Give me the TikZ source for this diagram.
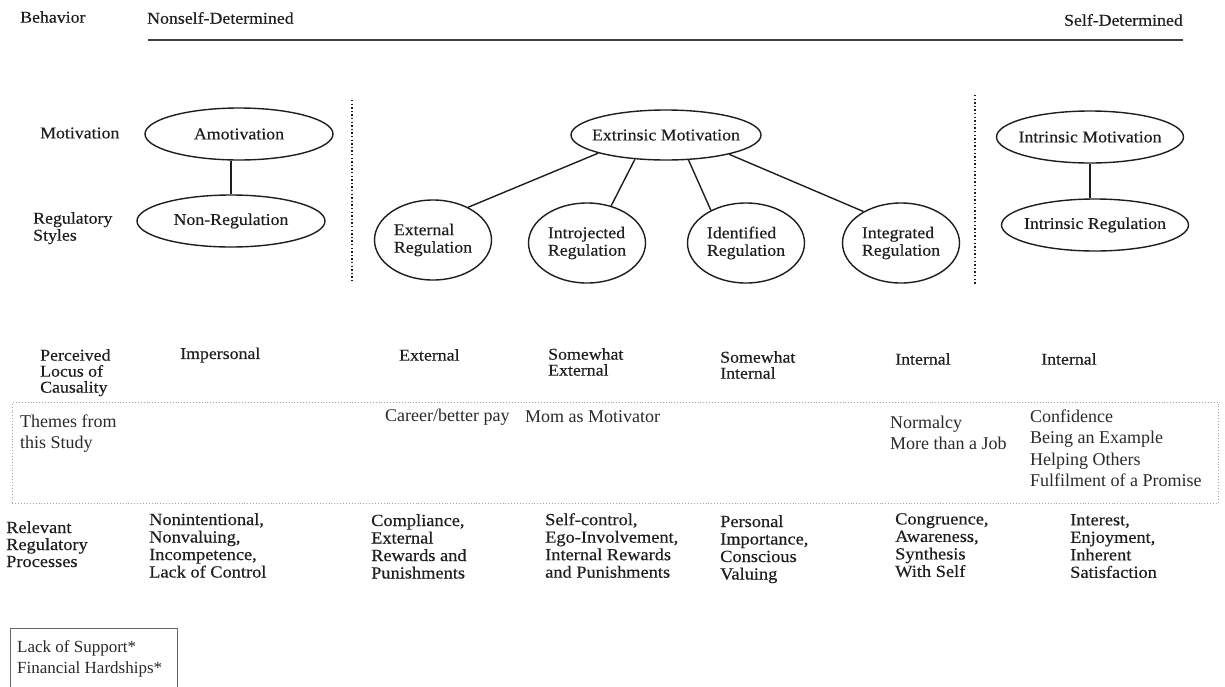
\documentclass[tikz,border=0pt]{standalone}
\usepackage{fontspec}
\setmainfont{Liberation Serif}
\newfontfamily\scanfont[FakeStretch=1.08,FakeBold=0.3]{Liberation Serif}
\usetikzlibrary{shapes.geometric}
\definecolor{ink}{HTML}{1E1E1E}
\definecolor{themeink}{HTML}{2A2A2A}
\tikzset{
  x=1pt, y=-1pt,
  scan/.style={font=\scanfont\fontsize{16.5}{17.5}\selectfont, text=ink, inner sep=0pt, anchor=north west, align=left},
  proc/.style={scan, font=\scanfont\fontsize{17}{17.5}\selectfont},
  theme/.style={font=\fontsize{18}{21.5}\selectfont, text=themeink, inner sep=0pt, anchor=north west, align=left},
  ell/.style={ellipse, draw=ink, line width=1.4pt, inner sep=0pt},
  link/.style={draw=ink, line width=1.4pt},
  sep/.style={draw=ink, line width=1.4pt, dash pattern=on 1.4pt off 2.2pt},
}
\begin{document}
\begin{tikzpicture}
\useasboundingbox (0,0) rectangle (1225,686);
\clip (0,0) rectangle (1225,686);
\fill[white] (0,0) rectangle (1225,686);

% header
\node[scan, anchor=west] (beh) at (20,17) {Behavior};
\node[scan, anchor=west] (nsd) at (147,18) {Nonself-Determined};
\node[scan, anchor=east] (sd) at (1183,20) {Self-Determined};
\coordinate (ruleL) at (148,40);
\coordinate (ruleR) at (1183,40);
\draw[draw=ink!85, line width=2.2pt] (ruleL) -- (ruleR);

% row labels
\node[scan, anchor=west] (motl) at (40,133) {Motivation};
\node[scan, font=\scanfont\fontsize{16.5}{17}\selectfont] (regl) at (33,212) {Regulatory\\Styles};

% amotivation column
\node[ell, minimum width=188pt, minimum height=52pt] (amot) at (239,134) {};
\node[scan, anchor=center] (amotT) at (amot.center) {Amotivation};
\node[ell, minimum width=188pt, minimum height=52pt] (nonreg) at (231,221) {};
\node[scan, anchor=center] (nonregT) at (nonreg.center) {Non-Regulation};
\draw[link] (amot.south -| nonreg.north) -- (nonreg.north);

% separators
\coordinate (s1a) at (352,100);
\coordinate (s1b) at (352,282);
\draw[sep] (s1a) -- (s1b);
\coordinate (s2a) at (975,95);
\coordinate (s2b) at (975,285);
\draw[sep] (s2a) -- (s2b);

% extrinsic
\node[ell, minimum width=190pt, minimum height=50pt] (extm) at (666,135) {};
\node[scan, anchor=center] (extmT) at (extm.center) {Extrinsic Motivation};
\node[ell, minimum width=117pt, minimum height=80pt] (er) at (433,240) {};
\node[scan, anchor=center] (erT) at (er.center) {External\\Regulation};
\node[ell, minimum width=117pt, minimum height=80pt] (ir) at (587,243) {};
\node[scan, anchor=center] (irT) at (ir.center) {Introjected\\Regulation};
\node[ell, minimum width=117pt, minimum height=80pt] (idr) at (746,243) {};
\node[scan, anchor=center] (idrT) at (idr.center) {Identified\\Regulation};
\node[ell, minimum width=117pt, minimum height=80pt] (ingr) at (901,243) {};
\node[scan, anchor=center] (ingrT) at (ingr.center) {Integrated\\Regulation};
\draw[link] (er.43) -- (extm.195);
\draw[link] (ir.57) -- (extm.218);
\draw[link] (idr.137) -- (extm.312);
\draw[link] (ingr.140) -- (extm.343);

% intrinsic
\node[ell, minimum width=187pt, minimum height=52pt] (intm) at (1090,137) {};
\node[scan, anchor=center] (intmT) at (intm.center) {Intrinsic Motivation};
\node[ell, minimum width=187pt, minimum height=52pt] (intr) at (1095,225) {};
\node[scan, anchor=center] (intrT) at (intr.center) {Intrinsic Regulation};
\draw[link] (intm.south) -- (intm.south |- intr.north);

% perceived locus
\node[scan, font=\scanfont\fontsize{16.5}{16}\selectfont] (locl) at (40,349) {Perceived\\Locus of\\Causality};
\node[scan, anchor=west] (loc1) at (180,355) {Impersonal};
\node[scan, anchor=west] (loc2) at (399,355) {External};
\node[scan, font=\scanfont\fontsize{16.5}{16}\selectfont] (loc3) at (548,348) {Somewhat\\External};
\node[scan, font=\scanfont\fontsize{16.5}{16}\selectfont] (loc4) at (720,351) {Somewhat\\Internal};
\node[scan, anchor=west] (loc5) at (895,359) {Internal};
\node[scan, anchor=west] (loc6) at (1041,359) {Internal};

% themes box
\node[draw=gray!70, line width=0.9pt, dotted, minimum width=1206pt, minimum height=101pt, anchor=north west, inner sep=0pt] (themebox) at (12,402) {};
\node[theme] (thl) at (20,414.5) {Themes from\\this Study};
\node[theme, anchor=west] (th1) at (385,417) {Career/better pay};
\node[theme, anchor=west] (th2) at (525,417) {Mom as Motivator};
\node[theme] (th3) at (890,415.5) {Normalcy\\More than a Job};
\node[theme] (th4) at (1030,409.5) {Confidence\\Being an Example\\Helping Others\\Fulfilment of a Promise};

% processes
\node[proc, font=\scanfont\fontsize{17}{17}\selectfont] (procl) at (6,521) {Relevant\\Regulatory\\Processes};
\node[proc] (p1) at (149,513) {Nonintentional,\\Nonvaluing,\\Incompetence,\\Lack of Control};
\node[proc] (p2) at (371,514) {Compliance,\\External\\Rewards and\\Punishments};
\node[proc] (p3) at (545,513) {Self-control,\\Ego-Involvement,\\Internal Rewards\\and Punishments};
\node[proc] (p4) at (720,515) {Personal\\Importance,\\Conscious\\Valuing};
\node[proc] (p5) at (895,513) {Congruence,\\Awareness,\\Synthesis\\With Self};
\node[proc] (p6) at (1070,514) {Interest,\\Enjoyment,\\Inherent\\Satisfaction};

% bottom box
\node[draw=gray!80!black, line width=1pt, minimum width=167pt, minimum height=80pt, anchor=north west, inner sep=0pt] (hbox) at (10,628) {};
\node[theme, font=\fontsize{17}{20.5}\selectfont] (hard) at (17,640.5) {Lack of Support*\\Financial Hardships*};
\end{tikzpicture}
\end{document}
